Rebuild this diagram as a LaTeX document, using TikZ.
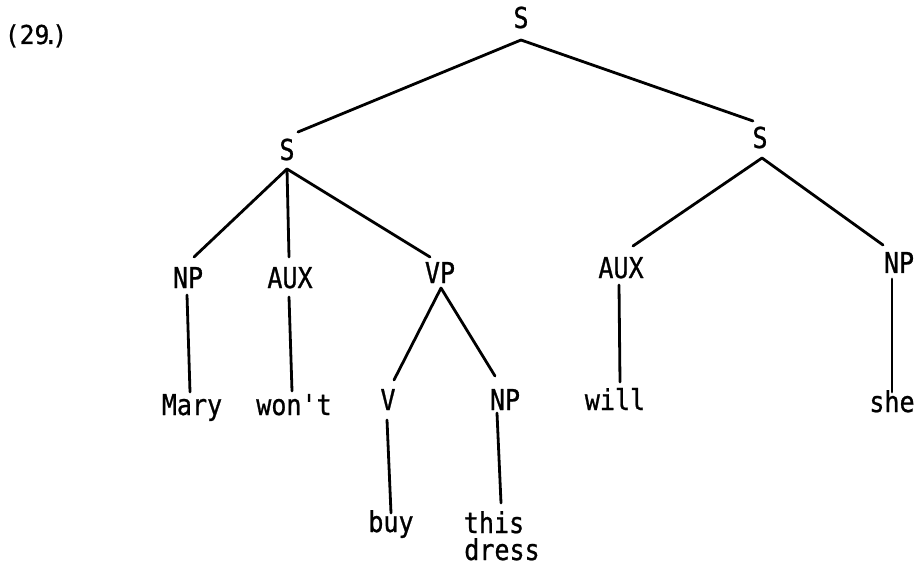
\documentclass[tikz,border=0pt]{standalone}
\usepackage{fontspec}
\newfontfamily\tw[FakeStretch=0.87,FakeBold=0.8]{DejaVu Sans Mono}
\newfontfamily\twb[FakeStretch=0.95,FakeBold=0.8]{DejaVu Sans Mono}
\usetikzlibrary{calc}
\begin{document}
\begin{tikzpicture}[x=1bp,y=-1bp,
  lab/.style={font=\tw\fontsize{28.8bp}{25bp}\selectfont, inner sep=0pt, anchor=base},
  br/.style={line width=2.8bp, line cap=round}]
\useasboundingbox (0,0) rectangle (915,569);
% labels
\node[lab, font=\twb\fontsize{26bp}{26bp}\selectfont] (num) at (36,44) {(29\kern-6bp.\kern-6bp)};
\node[lab] (r)    at (521,28)  {S};
\node[lab] (s1)   at (287,160) {S};
\node[lab] (s2)   at (760,148) {S};
\node[lab] (np1)  at (188,288) {NP};
\node[lab] (aux1) at (290,288) {AUX};
\node[lab] (vp)   at (440,283) {VP};
\node[lab] (aux2) at (621,278) {AUX};
\node[lab] (np2)  at (899,273) {NP};
\node[lab] (mary) at (192,415) {Mary};
\node[lab] (wont) at (294,415) {won\char"0027 t};
\node[lab] (v)    at (388,410) {V};
\node[lab] (np3)  at (505,410) {NP};
\node[lab] (will) at (615,410) {will};
\node[lab] (she)  at (892,412) {she};
\node[lab] (buy)  at (391,532) {buy};
\node[lab] (this)  at (494,533) {this};
\node[lab] (dress) at (502,560) {dress};
% branches
\draw[br] ($(r.base)+(0,12)$) -- ($(s1.base)+(11,-28)$);
\draw[br] ($(r.base)+(0,12)$) -- ($(s2.base)+(-7,-27)$);
\draw[br] ($(s1.base)+(0,9)$) -- ($(np1.base)+(6,-31)$);
\draw[br] ($(s1.base)+(0,9)$) -- ($(aux1.base)+(-1,-31)$);
\draw[br] ($(s1.base)+(0,9)$) -- ($(vp.base)+(-10,-26)$);
\draw[br] ($(s2.base)+(2,10)$) -- ($(aux2.base)+(12,-32)$);
\draw[br] ($(s2.base)+(2,10)$) -- ($(np2.base)+(-16,-28)$);
\draw[br] ($(np1.base)+(-1,7)$) -- ($(mary.base)+(-2,-23)$);
\draw[br] ($(aux1.base)+(-1,9)$) -- ($(wont.base)+(-2,-24)$);
\draw[br] ($(vp.base)+(1,5)$) -- ($(v.base)+(6,-30)$);
\draw[br] ($(vp.base)+(1,5)$) -- ($(np3.base)+(-10,-34)$);
\draw[br] ($(aux2.base)+(-2,7)$) -- ($(will.base)+(5,-28)$);
\draw[br] ($(np2.base)+(-7,6)$) -- ($(she.base)+(0,-20)$);
\draw[br] ($(v.base)+(-1,10)$) -- ($(buy.base)+(0,-19)$);
\draw[br] ($(np3.base)+(-8,3)$) -- ($(this.base)+(7,-30)$);
\end{tikzpicture}
\end{document}
